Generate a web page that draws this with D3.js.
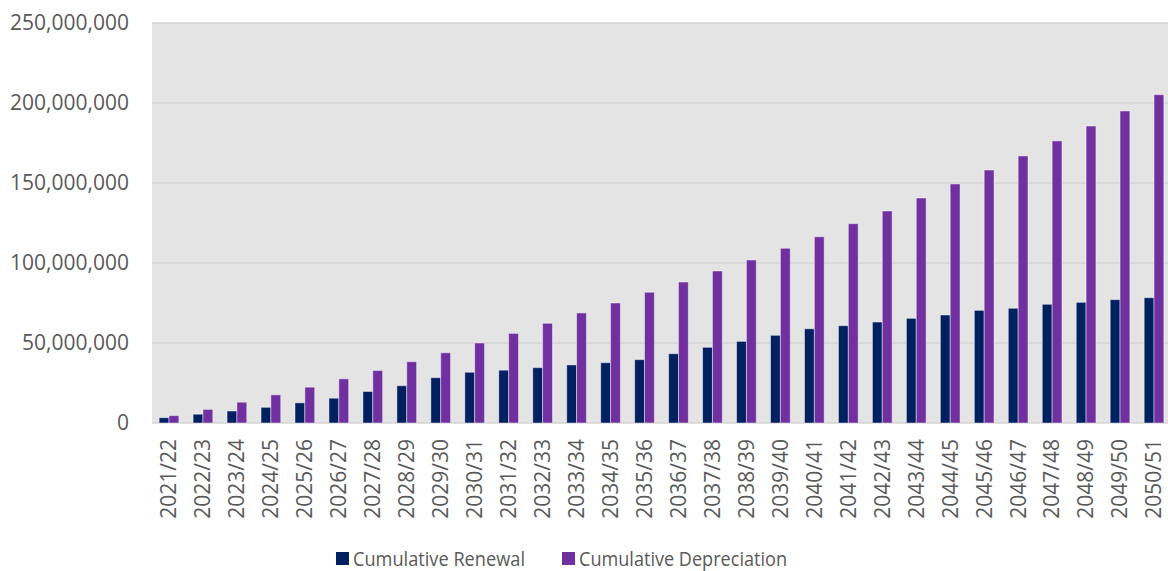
<!DOCTYPE html>
<html>
<head>
<meta charset="utf-8">
<script src="https://cdn.jsdelivr.net/npm/d3@7"></script>
<style>
  html, body { margin: 0; padding: 0; background: #fff; }
  svg { display: block; font-family: "Open Sans", "Noto Sans", sans-serif; }
</style>
</head>
<body>
<div class="vis-barchart"></div>
<script>
// years on the x axis
const years = ["2021/22","2022/23","2023/24","2024/25","2025/26","2026/27","2027/28","2028/29","2029/30","2030/31",
  "2031/32","2032/33","2033/34","2034/35","2035/36","2036/37","2037/38","2038/39","2039/40","2040/41",
  "2041/42","2042/43","2043/44","2044/45","2045/46","2046/47","2047/48","2048/49","2049/50","2050/51"];

// values, in millions
const renewal = [3.3, 5.5, 7.5, 9.8, 12.6, 15.5, 19.7, 23.3, 28.3, 31.7,
  33.0, 34.6, 36.3, 37.7, 39.6, 43.3, 47.3, 51.0, 54.8, 58.9,
  60.8, 63.1, 65.4, 67.5, 70.4, 71.7, 74.2, 75.4, 77.1, 78.3];
const depreciation = [4.6, 8.5, 13.0, 17.6, 22.4, 27.6, 32.8, 38.3, 43.9, 50.0,
  56.0, 62.3, 68.8, 75.0, 81.7, 88.1, 95.0, 101.9, 109.2, 116.4,
  124.6, 132.5, 140.6, 149.4, 158.1, 166.9, 176.3, 185.6, 195.0, 205.2];

const seriesNames = ["Cumulative Renewal", "Cumulative Depreciation"];
const seriesColors = ["#002060", "#7030a0"];
const yTicks = [0, 50e6, 100e6, 150e6, 200e6, 250e6];

const W = 1168, H = 571;
const plot = {left: 152, right: 1171, top: 23, bottom: 423};

const data = years.map((y, i) => ({year: y, values: [renewal[i] * 1e6, depreciation[i] * 1e6]}));

const svg = d3.select('.vis-barchart').append('svg')
  .attr('width', W)
  .attr('height', H);

const x = d3.scaleBand()
  .domain(years)
  .range([plot.left, plot.right])
  .paddingInner(0.42)
  .paddingOuter(0.21);

const x1 = d3.scaleBand()
  .domain([0, 1])
  .range([0, x.bandwidth()]);

const y = d3.scaleLinear()
  .domain([0, 250e6])
  .range([plot.bottom, plot.top]);

// plot background
svg.append('rect')
  .attr('x', plot.left)
  .attr('y', plot.top)
  .attr('width', plot.right - plot.left)
  .attr('height', plot.bottom - plot.top)
  .attr('fill', '#e4e4e4');

// gridlines
svg.append('g')
  .selectAll('line')
  .data(yTicks)
  .join('line')
    .attr('x1', plot.left)
    .attr('x2', plot.right)
    .attr('y1', d => y(d))
    .attr('y2', d => y(d))
    .attr('stroke', '#d4d4d4')
    .attr('stroke-width', 1.5);

// y axis
const gY = svg.append('g')
  .attr('transform', `translate(${plot.left}, 0)`)
  .call(d3.axisLeft(y).tickValues(yTicks).tickSize(0).tickPadding(23)
    .tickFormat(d3.format(',')));
gY.select('.domain').remove();
gY.selectAll('text')
  .attr('fill', '#595959')
  .style('font-size', '21px')
  .style('font-family', '"Open Sans", sans-serif');

// bars
const groups = svg.append('g')
  .selectAll('g')
  .data(data)
  .join('g')
    .attr('transform', d => `translate(${x(d.year)}, 0)`);

groups.selectAll('rect')
  .data(d => d.values.map((v, k) => ({k, v})))
  .join('rect')
    .attr('x', d => x1(d.k))
    .attr('y', d => y(d.v))
    .attr('width', x1.bandwidth())
    .attr('height', d => y(0) - y(d.v))
    .attr('fill', d => seriesColors[d.k])
    .attr('stroke', 'rgba(255,255,255,0.45)')
    .attr('stroke-width', 1);

// x axis labels, rotated
const gX = svg.append('g')
  .attr('transform', `translate(0, ${plot.bottom})`)
  .call(d3.axisBottom(x).tickSize(0));
gX.select('.domain').remove();
gX.selectAll('text')
  .attr('fill', '#595959')
  .style('font-size', '21px')
  .style('font-family', '"Open Sans", sans-serif')
  .style('text-anchor', 'end')
  .attr('transform', 'translate(0, 16) rotate(-90)')
  .attr('x', 0)
  .attr('y', 0)
  .attr('dy', '0.35em');

// legend
const legendX = [336, 562];
const legendW = [172, 208];
const legend = svg.append('g')
  .selectAll('g')
  .data(seriesNames)
  .join('g')
    .attr('transform', (d, i) => `translate(${legendX[i]}, 552)`);
legend.append('rect')
  .attr('width', 13)
  .attr('height', 13)
  .attr('fill', (d, i) => seriesColors[i]);
legend.append('text')
  .attr('x', 17)
  .attr('y', 6.5)
  .attr('dy', '0.35em')
  .attr('fill', '#595959')
  .style('font-size', '20px')
  .attr('textLength', (d, i) => legendW[i])
  .attr('lengthAdjust', 'spacingAndGlyphs')
  .text(d => d);
</script>
</body>
</html>
